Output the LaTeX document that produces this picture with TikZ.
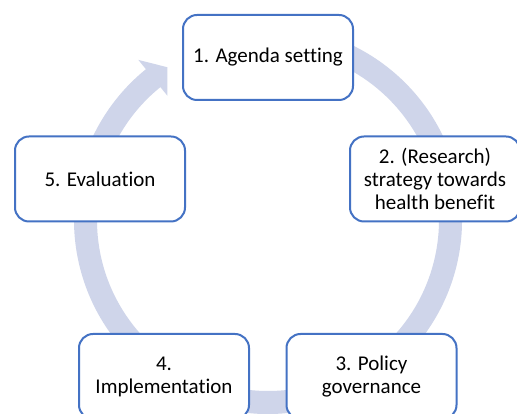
\documentclass[tikz,border=0pt]{standalone}
\usepackage{fontspec}
\setmainfont{Carlito}[Ligatures=CommonOff]
\usetikzlibrary{calc}
\definecolor{ringc}{HTML}{CFD5EA}
\definecolor{boxline}{HTML}{4472C4}
\tikzset{
  stagebox/.style={rectangle, draw=boxline, line width=2pt, fill=white,
    rounded corners=14pt, minimum width=170pt, minimum height=85pt,
    inner sep=2pt, outer sep=0pt, align=center, text=black,
    font=\fontsize{21}{23}\selectfont},
  ringfill/.style={fill=ringc, draw=none}
}
\begin{document}
\begin{tikzpicture}[x=1pt,y=1pt]
\clip (0,0) rectangle (517,414);
\fill[white] (0,0) rectangle (517,414);
\coordinate (C) at (268,194);
% cycle ring with arrowhead
\fill[ringfill] ($(C)+(100:194)$) arc[start angle=100, end angle=-231, radius=194]
  -- ($(C)+(129:206)$) -- ($(C)+(123.4:183)$) -- ($(C)+(129:160)$)
  -- ($(C)+(-231:171)$) arc[start angle=-231, end angle=100, radius=171] -- cycle;
% stages
\node[stagebox] (s1) at (268,356.5) {1. Agenda setting};
\node[stagebox] (s2) at (435,235) {2. (Research)\\strategy towards\\health benefit};
\node[stagebox] (s3) at (371.5,37.5) {3. Policy\\governance};
\node[stagebox] (s4) at (164,37.5) {4.\\Implementation};
\node[stagebox] (s5) at (100,235) {5. Evaluation};
\end{tikzpicture}
\end{document}
